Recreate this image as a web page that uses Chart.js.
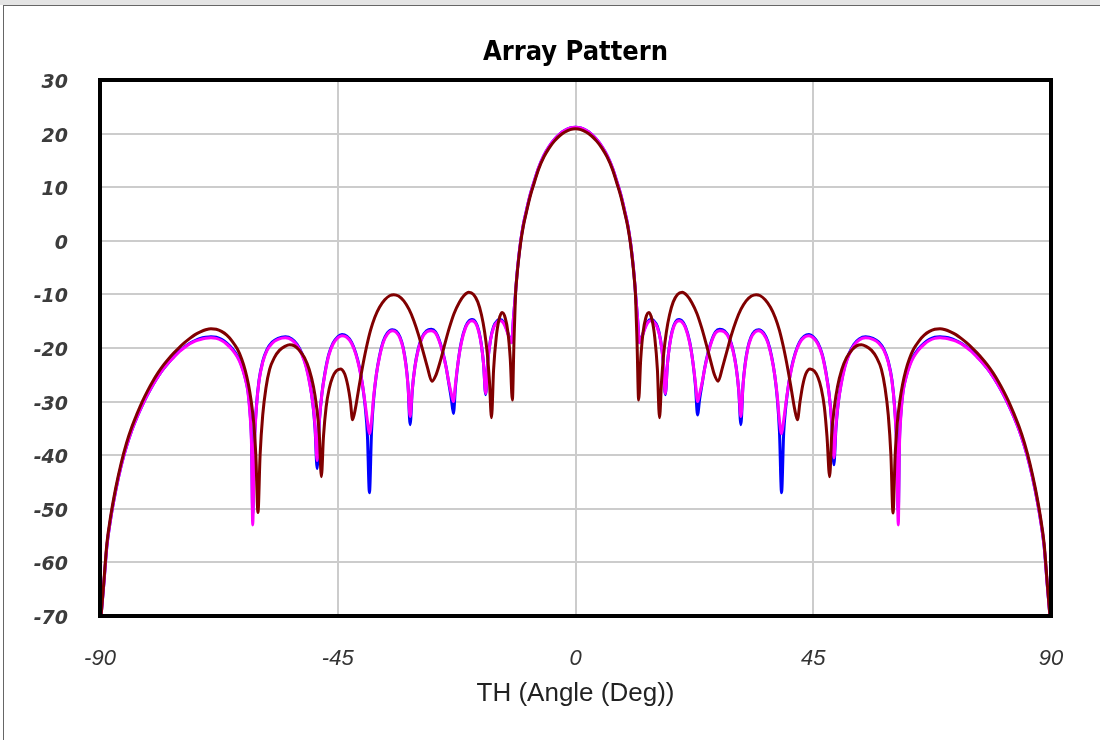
<!DOCTYPE html>
<html>
<head>
<meta charset="utf-8">
<title>Array Pattern</title>
<script src="https://cdn.jsdelivr.net/npm/chart.js@4/dist/chart.umd.min.js"></script>
<style>
  html, body { margin: 0; padding: 0; background: #ffffff; }
  #band { position: absolute; left: 0; top: 0; width: 1100px; height: 5px; background: #e4e4e4; }
  #frame { position: absolute; left: 3px; top: 5px; width: 1100px; height: 740px;
           border-left: 1px solid #666; border-top: 1px solid #666; }
  #wrap { position: absolute; left: 0; top: 0; width: 1100px; height: 740px; }
</style>
</head>
<body>
<div id="band"></div>
<div id="frame"></div>
<div id="wrap"><canvas id="chart" width="1100" height="740"></canvas></div>
<script>
// Each trace: [angle (deg), gain (dB)] samples from -90 to +90
const bluePattern = [
  [-89.8,-70],[-89.3,-64.3],[-88.7,-57],[-88,-52],[-87,-46.5],[-86,-42],[-85,-38.4],[-84,-35.4],[-83,-32.9],[-82,-30.7],
  [-81,-28.7],[-80,-26.9],[-79,-25.3],[-78,-23.9],[-77,-22.7],[-76,-21.6],[-75,-20.6],[-74,-19.8],[-73,-19.1],[-72,-18.6],
  [-71,-18.2],[-70,-18],[-69,-17.9],[-68,-18],[-67,-18.4],[-66,-19.1],[-65,-20.1],[-64,-21.5],[-63.3,-23],[-62.6,-25.2],
  [-62,-28],[-61.6,-32],[-61.3,-38],[-61.1,-51],[-60.8,-38],[-60.4,-31],[-59.9,-26],[-59.2,-22.5],[-58.4,-20.3],[-57.4,-18.9],
  [-56.3,-18.2],[-54.9,-17.9],[-53.7,-18.3],[-52.7,-19.3],[-51.8,-21],[-51,-23.3],[-50.3,-26.5],[-49.7,-30.5],[-49.3,-35],[-48.9,-42.5],
  [-48.5,-34],[-48,-28.5],[-47.4,-24.5],[-46.7,-21.2],[-45.9,-19.1],[-45,-17.9],[-44.2,-17.5],[-43.3,-17.8],[-42.4,-18.9],[-41.6,-20.9],
  [-40.9,-23.6],[-40.3,-27],[-39.8,-31],[-39.4,-36],[-39,-47],[-38.6,-35.5],[-38.2,-29.5],[-37.7,-25],[-37.1,-21.5],[-36.4,-18.8],
  [-35.6,-17.2],[-34.7,-16.6],[-33.9,-16.9],[-33.2,-18],[-32.6,-20],[-32.1,-23],[-31.7,-27],[-31.3,-34.3],[-30.9,-28],[-30.4,-23.5],
  [-29.8,-20.3],[-29.1,-18.1],[-28.2,-16.8],[-27.3,-16.5],[-26.5,-17],[-25.8,-18.5],[-25.1,-20.8],[-24.5,-23.5],[-24,-26.5],[-23.5,-29.5],
  [-23.1,-32.2],[-22.7,-27],[-22.2,-22.5],[-21.6,-18.8],[-20.8,-16],[-20.1,-14.9],[-19.6,-14.7],[-18.9,-15.2],[-18.3,-16.8],[-17.8,-19.5],
  [-17.4,-23],[-17,-28.7],[-16.6,-22.5],[-16.1,-18.5],[-15.5,-16],[-14.8,-14.9],[-14.2,-14.7],[-13.6,-15.2],[-13.1,-16.3],[-12.6,-17.8],
  [-12.1,-19],[-11.75,-14.5],[-11.35,-9.7],[-11.1,-6.5],[-10.8,-3.5],[-10.4,-0.2],[-9.9,2.9],[-9.3,5.6],[-8.6,8.5],[-8,10.5],
  [-7,13.6],[-6,15.9],[-5,17.6],[-4,18.9],[-3,19.9],[-2,20.6],[-1,21.05],[0,21.2],
  [1,21.05],[2,20.6],[3,19.9],[4,18.9],[5,17.6],[6,15.9],[7,13.6],[8,10.5],[8.6,8.5],[9.3,5.6],
  [9.9,2.9],[10.4,-0.2],[10.8,-3.5],[11.1,-6.5],[11.35,-9.7],[11.75,-14.5],[12.1,-19],[12.6,-17.8],[13.1,-16.3],[13.6,-15.2],
  [14.2,-14.7],[14.8,-14.9],[15.5,-16],[16.1,-18.5],[16.6,-22.5],[17,-28.7],[17.4,-23],[17.8,-19.5],[18.3,-16.8],[18.9,-15.2],
  [19.6,-14.7],[20.1,-14.9],[20.8,-16],[21.6,-18.8],[22.2,-22.5],[22.7,-27],[23.1,-32.5],[23.5,-29.5],[24,-26.5],[24.5,-23.5],
  [25.1,-20.8],[25.8,-18.5],[26.5,-17],[27.3,-16.5],[28.2,-16.8],[29.1,-18.1],[29.8,-20.3],[30.4,-23.5],[30.9,-28],[31.3,-34.3],
  [31.7,-27],[32.1,-23],[32.6,-20],[33.2,-18],[33.9,-16.9],[34.7,-16.6],[35.6,-17.2],[36.4,-18.8],[37.1,-21.5],[37.7,-25],
  [38.2,-29.5],[38.6,-35.5],[39,-47],[39.4,-36],[39.8,-31],[40.3,-27],[40.9,-23.6],[41.6,-20.9],[42.4,-18.9],[43.3,-17.8],
  [44.2,-17.5],[45,-17.9],[45.9,-19.1],[46.7,-21.2],[47.4,-24.5],[48,-28.5],[48.5,-34],[48.9,-41.8],[49.3,-35],[49.7,-30.5],
  [50.3,-26.5],[51,-23.3],[51.8,-21],[52.7,-19.3],[53.7,-18.3],[54.9,-17.9],[56.3,-18.2],[57.4,-18.9],[58.4,-20.3],[59.2,-22.5],
  [59.9,-26],[60.4,-31],[60.8,-38],[61.1,-50.5],[61.3,-38],[61.6,-32],[62,-28],[62.6,-25.2],[63.3,-23],[64,-21.5],
  [65,-20.1],[66,-19.1],[67,-18.4],[68,-18],[69,-17.9],[70,-18],[71,-18.2],[72,-18.6],[73,-19.1],[74,-19.8],
  [75,-20.6],[76,-21.6],[77,-22.7],[78,-23.9],[79,-25.3],[80,-26.9],[81,-28.7],[82,-30.7],[83,-32.9],[84,-35.4],
  [85,-38.4],[86,-42],[87,-46.5],[88,-52],[88.7,-57],[89.3,-64.3],[89.8,-70]
];

const magentaPattern = [
  [-89.8,-70],[-89.3,-64.3],[-88.7,-57],[-88,-52],[-87,-46.5],[-86,-42],[-85,-38.4],[-84,-35.4],[-83,-32.9],[-82,-30.7],
  [-81,-28.7],[-80,-26.9],[-79,-25.3],[-78,-23.9],[-77,-22.7],[-76,-21.7],[-75,-20.7],[-74,-19.9],[-73,-19.2],[-72,-18.7],
  [-71,-18.4],[-70,-18.2],[-69,-18.1],[-68,-18.2],[-67,-18.6],[-66,-19.3],[-65,-20.3],[-64,-21.7],[-63.3,-23.2],[-62.6,-25.4],
  [-62,-28.2],[-61.6,-32.5],[-61.3,-39],[-61.1,-53],[-60.8,-39],[-60.4,-31.2],[-59.9,-26.2],[-59.2,-22.7],[-58.4,-20.5],[-57.4,-19.1],
  [-56.3,-18.4],[-54.9,-18.1],[-53.7,-18.5],[-52.7,-19.5],[-51.8,-21.2],[-51,-23.5],[-50.3,-26.7],[-49.7,-30.5],[-49.3,-34.5],[-48.9,-41],
  [-48.5,-33.8],[-48,-28.6],[-47.4,-24.7],[-46.7,-21.4],[-45.9,-19.3],[-45,-18.1],[-44.2,-17.7],[-43.3,-18],[-42.4,-19.1],[-41.6,-21.1],
  [-40.9,-23.8],[-40.3,-27],[-39.8,-30.5],[-39.4,-33.5],[-39,-36],[-38.6,-33.5],[-38.2,-29],[-37.7,-25],[-37.1,-21.7],[-36.4,-19],
  [-35.6,-17.4],[-34.7,-16.8],[-33.9,-17.1],[-33.2,-18.2],[-32.6,-20.2],[-32.1,-23.2],[-31.7,-27],[-31.3,-32.8],[-30.9,-27.8],[-30.4,-23.6],
  [-29.8,-20.5],[-29.1,-18.3],[-28.2,-17],[-27.3,-16.8],[-26.5,-17.2],[-25.8,-18.7],[-25.1,-21],[-24.5,-23.6],[-24,-26.3],[-23.5,-28.5],
  [-23.1,-30],[-22.7,-26.5],[-22.2,-22.5],[-21.6,-19],[-20.8,-16.2],[-20.1,-15.1],[-19.6,-14.9],[-18.9,-15.4],[-18.3,-17],[-17.8,-19.6],
  [-17.4,-23],[-17,-28.5],[-16.6,-22.5],[-16.1,-18.6],[-15.5,-16.2],[-14.8,-15.1],[-14.2,-14.9],[-13.6,-15.4],[-13.1,-16.5],[-12.6,-17.9],
  [-12.1,-19],[-11.75,-14.5],[-11.35,-9.7],[-11.1,-6.5],[-10.8,-3.5],[-10.4,-0.2],[-9.9,2.9],[-9.3,5.6],[-8.6,8.5],[-8,10.5],
  [-7,13.6],[-6,15.9],[-5,17.6],[-4,18.9],[-3,19.9],[-2,20.6],[-1,21.05],[0,21.2],
  [1,21.05],[2,20.6],[3,19.9],[4,18.9],[5,17.6],[6,15.9],[7,13.6],[8,10.5],[8.6,8.5],[9.3,5.6],
  [9.9,2.9],[10.4,-0.2],[10.8,-3.5],[11.1,-6.5],[11.35,-9.7],[11.75,-14.5],[12.1,-19],[12.6,-17.9],[13.1,-16.5],[13.6,-15.4],
  [14.2,-14.9],[14.8,-15.1],[15.5,-16.2],[16.1,-18.6],[16.6,-22.5],[17,-28.5],[17.4,-23],[17.8,-19.6],[18.3,-17],[18.9,-15.4],
  [19.6,-14.9],[20.1,-15.1],[20.8,-16.2],[21.6,-19],[22.2,-22.5],[22.7,-26.5],[23.1,-30],[23.5,-28.5],[24,-26.3],[24.5,-23.6],
  [25.1,-21],[25.8,-18.7],[26.5,-17.2],[27.3,-16.8],[28.2,-17],[29.1,-18.3],[29.8,-20.5],[30.4,-23.6],[30.9,-27.8],[31.3,-32.8],
  [31.7,-27],[32.1,-23.2],[32.6,-20.2],[33.2,-18.2],[33.9,-17.1],[34.7,-16.8],[35.6,-17.4],[36.4,-19],[37.1,-21.7],[37.7,-25],
  [38.2,-29],[38.6,-33.5],[39,-36],[39.4,-33.5],[39.8,-30.5],[40.3,-27],[40.9,-23.8],[41.6,-21.1],[42.4,-19.1],[43.3,-18],
  [44.2,-17.7],[45,-18.1],[45.9,-19.3],[46.7,-21.4],[47.4,-24.7],[48,-28.6],[48.5,-33.8],[48.9,-40.5],[49.3,-34.5],[49.7,-30.5],
  [50.3,-26.7],[51,-23.5],[51.8,-21.2],[52.7,-19.5],[53.7,-18.5],[54.9,-18.1],[56.3,-18.4],[57.4,-19.1],[58.4,-20.5],[59.2,-22.7],
  [59.9,-26.2],[60.4,-31.2],[60.8,-39],[61.1,-53],[61.3,-39],[61.6,-32.5],[62,-28.2],[62.6,-25.4],[63.3,-23.2],[64,-21.7],
  [65,-20.3],[66,-19.3],[67,-18.6],[68,-18.2],[69,-18.1],[70,-18.2],[71,-18.4],[72,-18.7],[73,-19.2],[74,-19.9],
  [75,-20.7],[76,-21.7],[77,-22.7],[78,-23.9],[79,-25.3],[80,-26.9],[81,-28.7],[82,-30.7],[83,-32.9],[84,-35.4],
  [85,-38.4],[86,-42],[87,-46.5],[88,-52],[88.7,-57],[89.3,-64.3],[89.8,-70]
];

const maroonPattern = [
  [-89.8,-70],[-89.3,-64],[-88.7,-56.5],[-88,-51.5],[-87,-46],[-86,-41.5],[-85,-37.8],[-84,-34.8],[-83,-32.3],[-82,-30],
  [-81,-28],[-80,-26.2],[-79,-24.6],[-78,-23.2],[-77,-22],[-76,-20.9],[-75,-19.9],[-74,-19],[-73,-18.2],[-72,-17.5],
  [-71,-17],[-70,-16.6],[-69,-16.4],[-68,-16.5],[-67,-16.9],[-66,-17.6],[-65,-18.7],[-64,-20.2],[-63.2,-22],[-62.5,-24.2],
  [-61.9,-26.8],[-61.4,-29.8],[-60.9,-34],[-60.5,-40],[-60.1,-50.7],[-59.7,-40],[-59.2,-32.5],[-58.6,-27.5],[-57.9,-24],[-57,-21.8],
  [-56,-20.4],[-55,-19.7],[-54.1,-19.4],[-53.2,-19.6],[-52.3,-20.4],[-51.3,-21.8],[-50.4,-24],[-49.6,-27.2],[-49,-31],[-48.5,-36],
  [-48.1,-44],[-47.7,-36.5],[-47.2,-31],[-46.6,-27.5],[-46,-25.5],[-45.3,-24.3],[-44.5,-23.9],[-43.7,-24.8],[-43.1,-27],[-42.6,-30],
  [-42.2,-33.4],[-41.7,-31.5],[-41.1,-28],[-40.4,-24],[-39.6,-20],[-38.8,-16.7],[-38,-14.3],[-37.1,-12.4],[-36.1,-11],[-35.1,-10.2],
  [-34.4,-10.05],[-33.5,-10.3],[-32.5,-11.2],[-31.5,-12.8],[-30.6,-14.9],[-29.7,-17.6],[-28.8,-20.8],[-28,-23.7],[-27.2,-26.2],[-26.4,-25],
  [-25.6,-22.5],[-24.8,-19.5],[-23.9,-16.3],[-23,-13.6],[-22,-11.5],[-21.1,-10.2],[-20.2,-9.6],[-19.3,-10],[-18.5,-11.4],[-17.8,-13.8],
  [-17.2,-17],[-16.7,-21],[-16.3,-26],[-15.9,-33],[-15.5,-24],[-15,-18],[-14.5,-14.8],[-13.9,-13.4],[-13.3,-14.4],[-12.8,-17],
  [-12.35,-22],[-11.95,-29.7],[-11.65,-19],[-11.35,-10],[-11.1,-6.8],[-10.8,-3.8],[-10.4,-0.5],[-9.9,2.6],[-9.3,5.3],[-8.6,8.2],
  [-8,10.2],[-7,13.3],[-6,15.6],[-5,17.3],[-4,18.6],[-3,19.6],[-2,20.3],[-1,20.75],[0,20.9],
  [1,20.75],[2,20.3],[3,19.6],[4,18.6],[5,17.3],[6,15.6],[7,13.3],[8,10.2],[8.6,8.2],[9.3,5.3],
  [9.9,2.6],[10.4,-0.5],[10.8,-3.8],[11.1,-6.8],[11.35,-10],[11.65,-19],[11.95,-29.7],[12.35,-22],[12.8,-17],[13.3,-14.4],
  [13.9,-13.4],[14.5,-14.8],[15,-18],[15.5,-24],[15.9,-33],[16.3,-26],[16.7,-21],[17.2,-17],[17.8,-13.8],[18.5,-11.4],
  [19.3,-10],[20.2,-9.6],[21.1,-10.2],[22,-11.5],[23,-13.6],[23.9,-16.3],[24.8,-19.5],[25.6,-22.5],[26.3,-25],[27,-26.2],
  [27.8,-23.7],[28.6,-20.8],[29.5,-17.6],[30.4,-14.9],[31.3,-12.8],[32.3,-11.2],[33.3,-10.3],[34.2,-10.05],[34.9,-10.2],[35.9,-11],
  [36.9,-12.4],[37.8,-14.3],[38.6,-16.7],[39.4,-20],[40.2,-24],[40.9,-28],[41.5,-31.5],[42,-33.4],[42.5,-30],[43,-27],
  [43.6,-24.8],[44.4,-23.9],[45.2,-24.3],[45.9,-25.5],[46.5,-27.5],[47.1,-31],[47.6,-36.5],[48.1,-44],[48.5,-36],[49,-31],
  [49.6,-27.2],[50.4,-24],[51.3,-21.8],[52.3,-20.4],[53.2,-19.6],[54.1,-19.4],[55,-19.7],[56,-20.4],[57,-21.8],[57.9,-24],
  [58.6,-27.5],[59.2,-32.5],[59.7,-40],[60.1,-50.8],[60.5,-40],[60.9,-34],[61.4,-29.8],[61.9,-26.8],[62.5,-24.2],[63.2,-22],
  [64,-20.2],[65,-18.7],[66,-17.6],[67,-16.9],[68,-16.5],[69,-16.4],[70,-16.6],[71,-17],[72,-17.5],[73,-18.2],
  [74,-19],[75,-19.9],[76,-20.9],[77,-22],[78,-23.2],[79,-24.6],[80,-26.2],[81,-28],[82,-30],[83,-32.3],
  [84,-34.8],[85,-37.8],[86,-41.5],[87,-46],[88,-51.5],[88.7,-56.5],[89.3,-64],[89.8,-70]
];

const xTickValues = [-90, -45, 0, 45, 90];
const yTickValues = [30, 20, 10, 0, -10, -20, -30, -40, -50, -60, -70];
const chartTitle = 'Array Pattern';
const xAxisTitle = 'TH (Angle (Deg))';

function toPoints(pairs) {
  return pairs.map(([a, g]) => ({ x: a, y: g }));
}

// Thick black frame around the plotting area, plus the title centred over it
const plotFrame = {
  id: 'plotFrame',
  afterDatasetsDraw(chart) {
    const { ctx, chartArea: a } = chart;
    ctx.save();
    ctx.lineWidth = 4;
    ctx.strokeStyle = '#000';
    ctx.strokeRect(a.left, a.top, a.right - a.left, a.bottom - a.top);
    ctx.restore();
  },
  afterDraw(chart) {
    const { ctx, chartArea: a } = chart;
    ctx.save();
    ctx.fillStyle = '#000';
    ctx.font = 'bold 27px "DejaVu Sans Condensed", "DejaVu Sans", sans-serif';
    ctx.textAlign = 'center';
    ctx.textBaseline = 'middle';
    ctx.fillText(chartTitle, (a.left + a.right) / 2, 53);
    ctx.restore();
  }
};

const lineStyle = {
  borderWidth: 3,
  pointRadius: 0,
  fill: false,
  cubicInterpolationMode: 'monotone'
};

new Chart(document.getElementById('chart'), {
  type: 'line',
  data: {
    datasets: [
      { ...lineStyle, label: 'Trace 3', data: toPoints(maroonPattern), borderColor: '#800000' },
      { ...lineStyle, label: 'Trace 2', data: toPoints(magentaPattern), borderColor: '#ff00ff' },
      { ...lineStyle, label: 'Trace 1', data: toPoints(bluePattern), borderColor: '#0000ff' }
    ]
  },
  options: {
    responsive: false,
    animation: false,
    devicePixelRatio: 1,
    layout: { padding: { left: 0, right: 49, top: 80, bottom: 0 } },
    plugins: {
      legend: { display: false },
      tooltip: { enabled: false },
      title: { display: false }
    },
    scales: {
      x: {
        type: 'linear',
        min: -90,
        max: 90,
        afterBuildTicks: s => { s.ticks = xTickValues.map(v => ({ value: v })); },
        afterFit: s => { s.height = 124; },
        border: { display: false },
        grid: { color: '#cccccc', lineWidth: 2, drawTicks: false },
        ticks: {
          padding: 30,
          maxRotation: 0,
          color: '#333',
          font: { family: 'Liberation Sans', size: 22, style: 'italic' }
        },
        title: {
          display: true,
          text: xAxisTitle,
          color: '#222',
          font: { family: 'Liberation Sans', size: 26 },
          padding: { top: 0, bottom: 31 }
        }
      },
      y: {
        type: 'linear',
        min: -70,
        max: 30,
        afterBuildTicks: s => { s.ticks = yTickValues.map(v => ({ value: v })); },
        afterFit: s => { s.width = 100; },
        border: { display: false },
        grid: { color: '#cccccc', lineWidth: 2, drawTicks: false },
        ticks: {
          padding: 32,
          labelOffset: 3,
          color: '#3c3c3c',
          font: { family: 'DejaVu Sans', size: 19, style: 'italic', weight: 'bold' }
        }
      }
    }
  },
  plugins: [plotFrame]
});
</script>
</body>
</html>
